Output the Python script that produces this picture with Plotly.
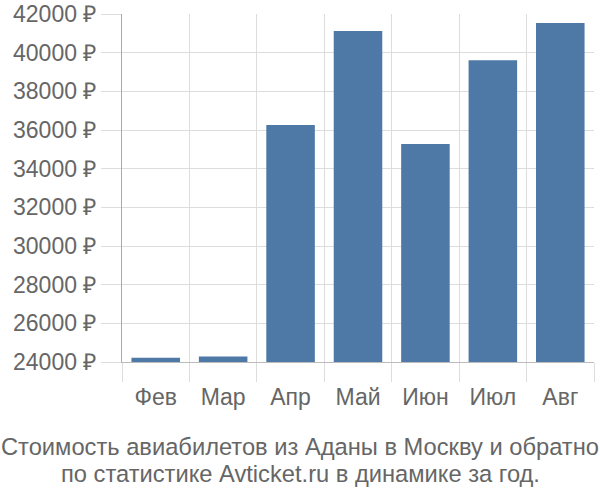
import plotly.graph_objects as go

months = ["Фев", "Мар", "Апр", "Май", "Июн", "Июл", "Авг"]
prices = [24220, 24280, 36260, 41120, 35280, 39610, 41540]
y_ticks = [24000, 26000, 28000, 30000, 32000, 34000, 36000, 38000, 40000, 42000]
y_tick_labels = [f"{v} ₽" for v in y_ticks]
title_lines = ["Стоимость авиабилетов из Аданы в Москву и обратно",
               "по статистике Avticket.ru в динамике за год."]

fig = go.Figure(go.Bar(
    x=months, y=prices, marker_color="#4e79a7",
    marker_line_width=0, width=0.72,
))

fig.update_layout(
    width=600, height=500,
    margin=dict(l=122, r=6, t=14, b=138, autoexpand=False),
    paper_bgcolor="white", plot_bgcolor="white",
    font=dict(family="Liberation Sans, Arial, sans-serif", color="#666666", size=23),
    showlegend=False,
)
fig.update_xaxes(
    tickson="boundaries", ticks="outside", ticklen=19, tickcolor="#dddddd",
    showgrid=True, gridcolor="#dddddd", gridwidth=1,
    showline=True, linecolor="#bbbbbb", linewidth=1,
    tickfont=dict(size=23, color="#666666"), ticklabelstandoff=14,
    automargin=False,
)
fig.update_yaxes(
    range=[24000, 42000], tickvals=y_ticks, ticktext=y_tick_labels,
    ticks="outside", ticklen=20, tickcolor="#dddddd",
    showgrid=True, gridcolor="#dddddd", gridwidth=1,
    showline=True, linecolor="#aaaaaa", linewidth=1,
    tickfont=dict(size=23, color="#666666"), zeroline=False,
    automargin=False,
)
plot_left, plot_w, plot_bottom, plot_h = 122, 472, 362, 348
for line, ypix in zip(title_lines, [447, 474]):
    fig.add_annotation(
        text=line, xref="paper", yref="paper",
        x=(300 - plot_left) / plot_w, xanchor="center",
        y=(plot_bottom - ypix) / plot_h, yanchor="middle",
        showarrow=False, font=dict(size=23.7, color="#666666"),
    )
fig.write_html("out.html")
